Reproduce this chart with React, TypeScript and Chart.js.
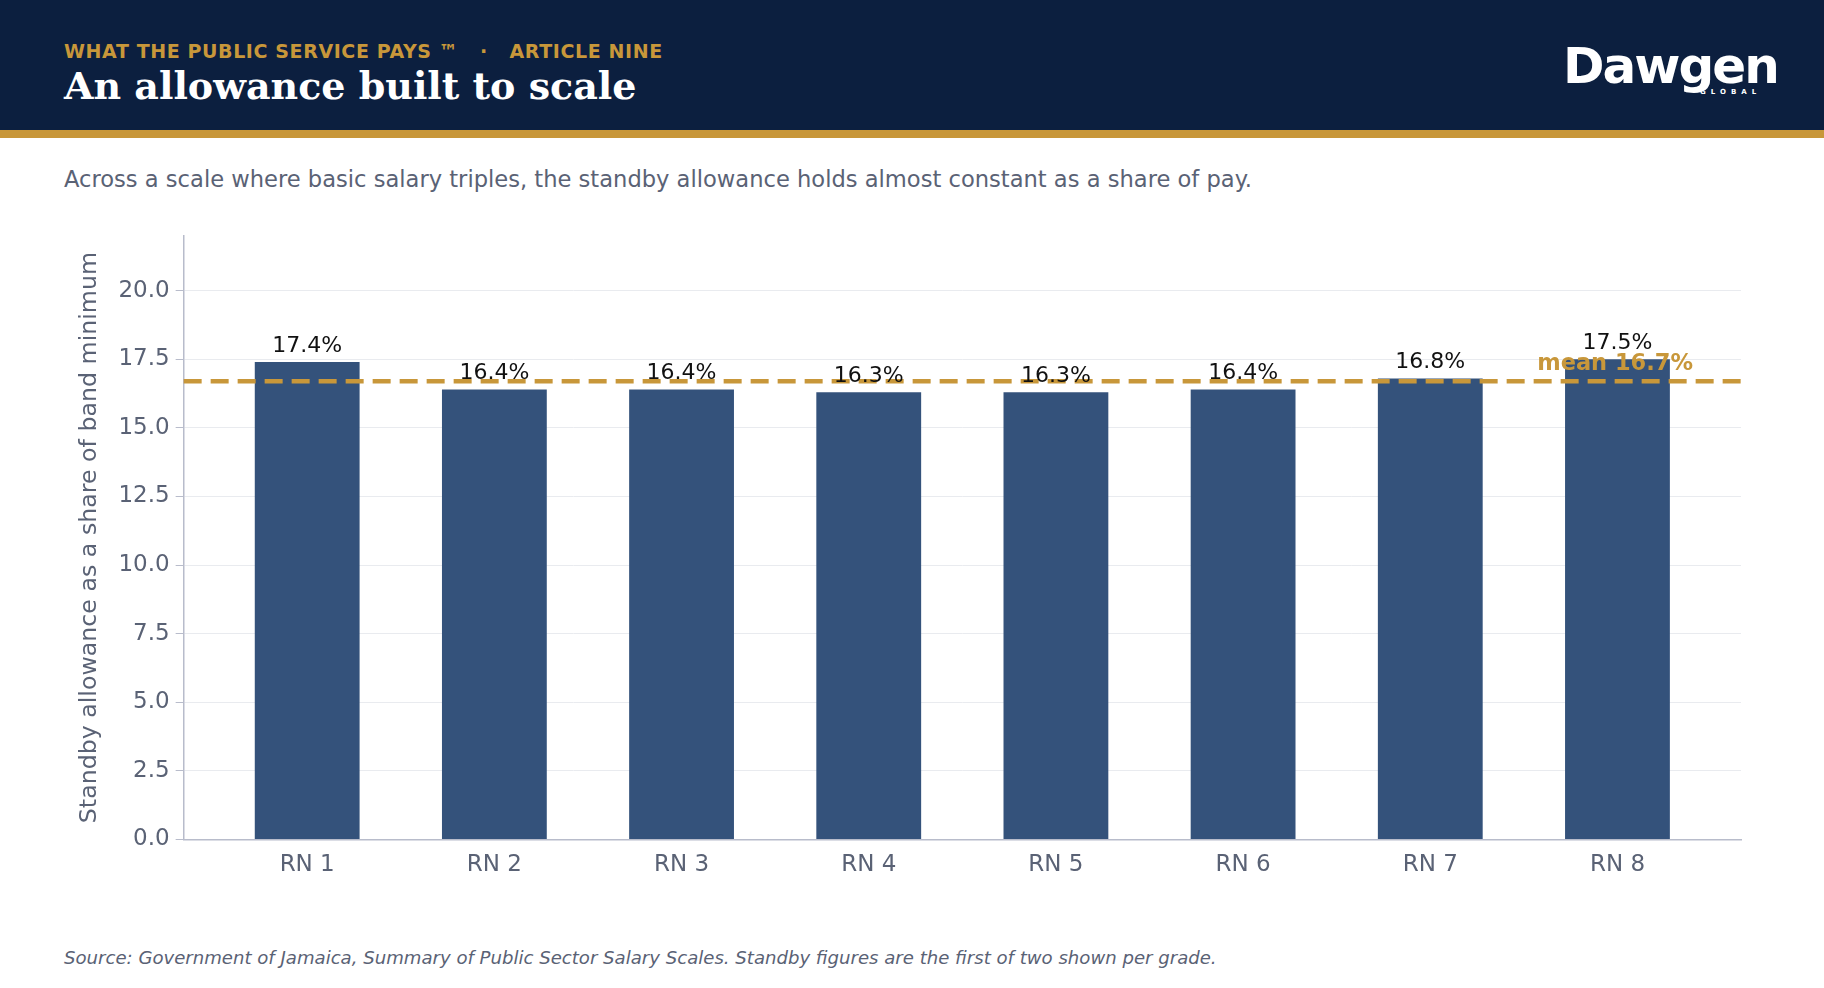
import React, { useEffect, useRef } from 'react';
import Chart from 'chart.js/auto';

const grades = ['RN 1', 'RN 2', 'RN 3', 'RN 4', 'RN 5', 'RN 6', 'RN 7', 'RN 8'];
const shares = [17.4, 16.4, 16.4, 16.3, 16.3, 16.4, 16.8, 17.5];
const meanShare = 16.7;
const yTicks = [0, 2.5, 5, 7.5, 10, 12.5, 15, 17.5, 20];

const NAVY = '#0c1f3f';
const GOLD = '#c8973a';
const FONT = '"DejaVu Sans", sans-serif';

const overlay = {
  id: 'overlay',
  afterDatasetsDraw(chart: any) {
    const { ctx, chartArea, scales } = chart;
    const y = scales.y.getPixelForValue(meanShare);
    ctx.save();
    ctx.strokeStyle = GOLD;
    ctx.lineWidth = 4.5;
    ctx.setLineDash([18, 9]);
    ctx.beginPath();
    ctx.moveTo(chartArea.left, y);
    ctx.lineTo(chartArea.right, y);
    ctx.stroke();
    ctx.setLineDash([]);
    ctx.font = `22px ${FONT}`;
    ctx.fillStyle = '#111';
    ctx.textAlign = 'center';
    ctx.textBaseline = 'bottom';
    const meta = chart.getDatasetMeta(0);
    meta.data.forEach((bar: any, i: number) => {
      ctx.fillText(shares[i].toFixed(1) + '%', bar.x, bar.y - 5);
    });
    ctx.font = `bold 22.5px ${FONT}`;
    ctx.fillStyle = GOLD;
    ctx.textAlign = 'right';
    ctx.fillText('mean ' + meanShare.toFixed(1) + '%', chartArea.right - 48, y - 6);
    ctx.restore();
  },
};

const App = () => {
  const chartRef = useRef<HTMLCanvasElement>(null);
  const chartInstanceRef = useRef<Chart | null>(null);

  useEffect(() => {
    const c = chartRef.current?.getContext('2d');
    if (chartInstanceRef.current) chartInstanceRef.current.destroy();
    if (c) {
      chartInstanceRef.current = new Chart(c, {
        type: 'bar',
        data: {
          datasets: [{
            data: shares.map((v, i) => ({ x: i, y: v })),
            backgroundColor: '#34527b',
            barPercentage: 0.56,
            categoryPercentage: 1,
          }],
        },
        options: {
          animation: false,
          responsive: true,
          maintainAspectRatio: false,
          layout: { padding: { top: 0, right: 18 } },
          plugins: { legend: { display: false }, tooltip: { enabled: false } },
          scales: {
            x: {
              type: 'linear',
              offset: false,
              min: -0.66,
              max: 7.66,
              afterBuildTicks: (axis: any) => { axis.ticks = grades.map((_, i) => ({ value: i })); },
              grid: { display: false, drawTicks: true, tickLength: 8 },
              border: { color: '#b8bccb', width: 1.5 },
              ticks: { color: '#5a6275', font: { size: 23, family: FONT }, padding: 4, callback: (v: any) => grades[Number(v)] ?? '' },
            },
            y: {
              min: 0,
              max: 22,
              afterBuildTicks: (axis: any) => { axis.ticks = yTicks.map((v) => ({ value: v })); },
              grid: { color: '#e9ebef', tickColor: '#b8bccb', tickLength: 8 },
              border: { color: '#b8bccb', width: 1.5 },
              ticks: { color: '#5a6275', font: { size: 23, family: FONT }, padding: 6, callback: (v: any) => Number(v).toFixed(1) },
              title: {
                display: true,
                text: 'Standby allowance as a share of band minimum',
                color: '#5a6275',
                font: { size: 23.7, family: FONT },
                padding: { top: 0, bottom: 8 },
              },
            },
          },
        },
        plugins: [overlay],
      });
    }
    return () => {
      if (chartInstanceRef.current) chartInstanceRef.current.destroy();
    };
  }, []);

  return (
    <div style={{ position: 'fixed', left: 0, top: 0, width: 1824, height: 988, background: '#fff', fontFamily: FONT }}>
      <div style={{ position: 'absolute', left: 0, top: 0, width: 1824, height: 130, background: NAVY }} />
      <div style={{ position: 'absolute', left: 0, top: 130, width: 1824, height: 8, background: GOLD }} />
      <div style={{ position: 'absolute', left: 64, top: 40, color: GOLD, fontWeight: 'bold', fontSize: 19, letterSpacing: 0.6 }}>
        WHAT THE PUBLIC SERVICE PAYS ™ &nbsp; · &nbsp; ARTICLE NINE
      </div>
      <div style={{ position: 'absolute', left: 64, top: 63, color: '#fff', fontWeight: 'bold', fontSize: 38, fontFamily: '"DejaVu Serif", serif' }}>
        An allowance built to scale
      </div>
      <div style={{ position: 'absolute', left: 1563, top: 40, color: '#fff', fontWeight: 'bold', fontSize: 50, lineHeight: '52px', letterSpacing: -2 }}>
        Dawgen
      </div>
      <div style={{ position: 'absolute', left: 1700, top: 88, color: '#fff', fontWeight: 'bold', fontSize: 7, letterSpacing: 5 }}>
        GLOBAL
      </div>
      <div style={{ position: 'absolute', left: 64, top: 166, color: '#5a6275', fontSize: 22.6 }}>
        Across a scale where basic salary triples, the standby allowance holds almost constant as a share of pay.
      </div>
      <div style={{ position: 'absolute', left: 76, top: 216, width: 1683, height: 667 }}>
        <canvas ref={chartRef} />
      </div>
      <div style={{ position: 'absolute', left: 64, top: 947, color: '#5a6275', fontSize: 18.1, fontStyle: 'italic' }}>
        Source: Government of Jamaica, Summary of Public Sector Salary Scales. Standby figures are the first of two shown per grade.
      </div>
    </div>
  );
};

export default App;
